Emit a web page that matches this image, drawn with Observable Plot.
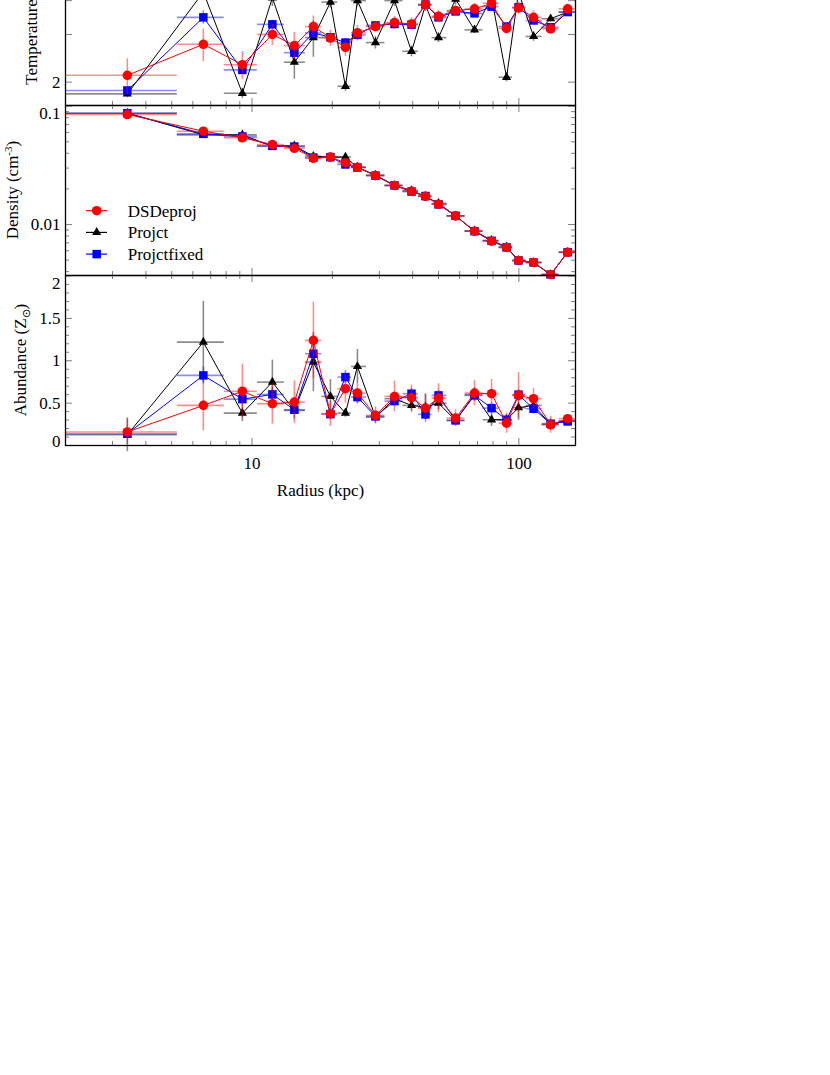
<!DOCTYPE html>
<html><head><meta charset="utf-8">
<script src="https://cdn.jsdelivr.net/npm/d3@7"></script>
<script src="https://cdn.jsdelivr.net/npm/@observablehq/plot@0.6"></script>
<style>
body{margin:0;background:#fff;}
#chart{width:830px;}
#chart svg{display:block;overflow:visible;}
</style></head><body><div id="chart"></div>
<script>
// ---- data ----
const radius   = [3.41, 6.57, 9.20, 11.92, 14.41, 16.98, 19.67, 22.39, 24.83, 29.01, 34.19, 39.6, 44.67, 49.98, 57.9, 68.2, 79.0, 89.9, 99.7, 113.5, 131.5, 152.3];
const binEdges = [2.0, 5.25, 7.87, 10.47, 13.22, 15.85, 18.27, 20.98, 23.58, 26.83, 31.48, 36.78, 42.05, 47.25, 53.8, 62.84, 73.4, 84.3, 94.7, 106.4, 122.2, 141.5, 163];

const tempDS    = [2.12, 2.76, 2.32, 3.00, 2.73, 3.21, 2.91, 2.69, 3.04, 3.21, 3.32, 3.28, 3.87, 3.50, 3.68, 3.73, 3.91, 3.16, 3.76, 3.47, 3.15, 3.73];
const tempDSErr = [0.32, 0.38, 0.27, 0.27, 0.32, 0.30, 0.20, 0.20, 0.20, 0.15, 0.18, 0.18, 0.20, 0.18, 0.15, 0.18, 0.18, 0.15, 0.20, 0.20, 0.15, 0.15];
const tempPJ    = [1.81, 4.30, 1.82, 4.10, 2.37, 2.92, 3.95, 1.93, 4.00, 2.80, 4.00, 2.60, 3.85, 2.92, 4.05, 3.12, 4.10, 2.085, 4.30, 2.95, 3.43, 3.63];
const tempPJErr = [0.06, 0.30, 0.08, 0.30, 0.32, 0.45, 0.20, 0.08, 0.20, 0.15, 0.20, 0.12, 0.20, 0.12, 0.20, 0.10, 0.20, 0.08, 0.20, 0.12, 0.10, 0.10];
const tempPF    = [1.864, 3.47, 2.22, 3.27, 2.57, 3.04, 2.93, 2.80, 2.99, 3.24, 3.28, 3.26, 3.87, 3.47, 3.65, 3.59, 3.80, 3.21, 3.78, 3.38, 3.19, 3.63];
const tempPFErr = [0.05, 0.20, 0.08, 0.12, 0.12, 0.12, 0.10, 0.10, 0.10, 0.10, 0.10, 0.10, 0.12, 0.10, 0.10, 0.10, 0.12, 0.10, 0.12, 0.10, 0.10, 0.10];

const densDS    = [0.0851, 0.0615, 0.0541, 0.0474, 0.0441, 0.0363, 0.0371, 0.0333, 0.0305, 0.0259, 0.0214, 0.0191, 0.0173, 0.01485, 0.01184, 0.00878, 0.00723, 0.0064, 0.00497, 0.00478, 0.00378, 0.00583];
const densDSErr = [0.0015, 0.0012, 0.0010, 0.0008, 0.0008, 0.0007, 0.0007, 0.0006, 0.0006, 0.0005, 0.0004, 0.0004, 0.0003, 0.0003, 0.0002, 0.00015, 0.00013, 0.00012, 0.0001, 0.0001, 0.00008, 0.0001];
const densPJ    = [0.0873, 0.0573, 0.0573, 0.0459, 0.0462, 0.0378, 0.0371, 0.0372, 0.0305, 0.0262, 0.0214, 0.0194, 0.0173, 0.0151, 0.01184, 0.00885, 0.00735, 0.00648, 0.00497, 0.00478, 0.00378, 0.00583];
const densPJErr = [0.0015, 0.0012, 0.0010, 0.0008, 0.0008, 0.0007, 0.0007, 0.0006, 0.0006, 0.0005, 0.0004, 0.0004, 0.0003, 0.0003, 0.0002, 0.00015, 0.00013, 0.00012, 0.0001, 0.0001, 0.00008, 0.0001];
const densPF    = [0.0873, 0.0584, 0.0555, 0.0462, 0.0456, 0.0368, 0.0371, 0.0322, 0.0303, 0.0259, 0.0214, 0.0190, 0.0174, 0.0148, 0.01184, 0.00878, 0.00728, 0.00641, 0.00497, 0.00478, 0.00378, 0.00583];
const densPFErr = [0.0015, 0.0012, 0.0010, 0.0008, 0.0008, 0.0007, 0.0007, 0.0006, 0.0006, 0.0005, 0.0004, 0.0004, 0.0003, 0.0003, 0.0002, 0.00015, 0.00013, 0.00012, 0.0001, 0.0001, 0.00008, 0.0001];

const abDS    = [0.16, 0.473, 0.64, 0.493, 0.512, 1.24, 0.375, 0.67, 0.618, 0.355, 0.579, 0.564, 0.441, 0.559, 0.323, 0.618, 0.611, 0.264, 0.591, 0.552, 0.245, 0.316];
const abDSErr = [0.15, 0.30, 0.32, 0.24, 0.25, 0.45, 0.15, 0.17, 0.12, 0.10, 0.18, 0.15, 0.17, 0.17, 0.10, 0.15, 0.17, 0.12, 0.27, 0.12, 0.10, 0.05];
const abPJ    = [0.127, 1.22, 0.382, 0.748, 0.414, 0.984, 0.579, 0.383, 0.933, 0.335, 0.552, 0.473, 0.453, 0.50, 0.296, 0.60, 0.304, 0.304, 0.446, 0.473, 0.25, 0.29];
const abPJErr = [0.20, 0.48, 0.10, 0.26, 0.10, 0.35, 0.20, 0.05, 0.20, 0.07, 0.08, 0.08, 0.15, 0.08, 0.06, 0.08, 0.08, 0.06, 0.15, 0.08, 0.06, 0.05];
const abPF    = [0.139, 0.827, 0.547, 0.603, 0.422, 1.083, 0.37, 0.807, 0.571, 0.343, 0.524, 0.611, 0.367, 0.591, 0.296, 0.591, 0.441, 0.304, 0.60, 0.434, 0.257, 0.284];
const abPFErr = [0.05, 0.10, 0.06, 0.08, 0.05, 0.10, 0.06, 0.08, 0.08, 0.05, 0.06, 0.06, 0.06, 0.06, 0.04, 0.06, 0.06, 0.05, 0.06, 0.06, 0.04, 0.04];

const seriesNames = ["DSDeproj", "Projct", "Projctfixed"];

const xMinor = [3, 4, 5, 6, 7, 8, 9, 20, 30, 40, 50, 60, 70, 80, 90];
const xMajor = [10, 100];
const xTickLabels = ["10", "100"];

const tempMajor = [2, 3, 4, 5, 6];
const tempTickLabels = [{v: 2, t: "2"}];
const densMajor = [0.01, 0.1];
const densMinor = [0.004, 0.005, 0.006, 0.007, 0.008, 0.009, 0.02, 0.03, 0.04, 0.05, 0.06, 0.07, 0.08, 0.09];
const densTickLabels = [{v: 0.01, t: "0.01"}, {v: 0.1, t: "0.1"}];
const abMajor = [0, 0.5, 1, 1.5, 2];
const abMinor = [0.1, 0.2, 0.3, 0.4, 0.6, 0.7, 0.8, 0.9, 1.1, 1.2, 1.3, 1.4, 1.6, 1.7, 1.8, 1.9];
const abTickLabels = [{v: 0, t: "0"}, {v: 0.5, t: "0.5"}, {v: 1, t: "1"}, {v: 1.5, t: "1.5"}, {v: 2, t: "2"}];

// ---- styling ----
const FONT = "'Liberation Serif', 'Times New Roman', serif";
const FS = 17;
const W = 600, ML = 65, MR = 25, FH = 170, FW = W - ML - MR;
const TICK = "#808080";
const styles = {
  Projct:      {color: "#000000", symbol: "triangle", r: 3.4},
  Projctfixed: {color: "#0000ff", symbol: "square",   r: 4.8},
  DSDeproj:    {color: "#ff0000", symbol: "circle",   r: 4.8}
};
const xScale = {type: "log", domain: [2, 163], axis: null};

function rows(vals, errs) {
  return radius.map((r, i) => ({r, lo: binEdges[i], hi: binEdges[i + 1], v: vals[i], e: errs[i]}));
}
function seriesMarks(name, vals, errs) {
  const s = styles[name];
  const data = rows(vals, errs);
  return [
    Plot.ruleY(data, {y: "v", x1: "lo", x2: "hi", stroke: s.color, strokeOpacity: 0.45, strokeWidth: 1.6}),
    Plot.ruleX(data, {x: "r", y1: d => d.v - d.e, y2: d => d.v + d.e, stroke: s.color, strokeOpacity: 0.45, strokeWidth: 1.6}),
    Plot.line(data, {x: "r", y: "v", stroke: s.color, strokeWidth: 1}),
    Plot.dot(data, {x: "r", y: "v", symbol: s.symbol, r: s.r, fill: s.color, stroke: "none"})
  ];
}
function xTicks() {
  return [
    Plot.tickX(xMinor, {x: d => d, stroke: TICK, insetTop: FH - 4}),
    Plot.tickX(xMinor, {x: d => d, stroke: TICK, insetBottom: FH - 4}),
    Plot.tickX(xMajor, {x: d => d, stroke: TICK, insetTop: FH - 7}),
    Plot.tickX(xMajor, {x: d => d, stroke: TICK, insetBottom: FH - 7})
  ];
}
function yTicks(minor, major) {
  return [
    Plot.tickY(minor, {y: d => d, stroke: TICK, insetRight: FW - 4}),
    Plot.tickY(minor, {y: d => d, stroke: TICK, insetLeft: FW - 4}),
    Plot.tickY(major, {y: d => d, stroke: TICK, insetRight: FW - 7}),
    Plot.tickY(major, {y: d => d, stroke: TICK, insetLeft: FW - 7})
  ];
}
function yTickText(labels, shift) {
  return Plot.text(labels, {y: "v", text: "t", frameAnchor: "left", dx: -5, dy: shift, textAnchor: "end", fontSize: FS, fontFamily: FONT, fill: "#000"});
}
function yLabel(parts, offset) {
  return (index, scales, values, dims) => {
    const g = d3.create("svg:g");
    const cy = dims.marginTop + (dims.height - dims.marginTop - dims.marginBottom) / 2;
    const t = g.append("text")
      .attr("transform", `translate(${dims.marginLeft - offset},${cy}) rotate(-90)`)
      .attr("text-anchor", "middle").attr("dy", "0.35em")
      .attr("font-family", FONT).attr("font-size", FS).attr("fill", "#000");
    let shift = 0;
    parts.forEach(p => {
      const ts = t.append("tspan").text(p.t);
      const target = p.sup ? -6 : p.sub ? 4 : 0;
      if (target !== shift) ts.attr("dy", target - shift);
      if (p.sup || p.sub) ts.attr("font-size", 11);
      shift = target;
    });
    return g.node();
  };
}
function legendMark(index, scales, values, dims) {
  const g = d3.create("svg:g").attr("font-family", FONT).attr("font-size", FS);
  const x0 = dims.marginLeft, y0 = dims.marginTop;
  const sym = {circle: d3.symbolCircle, triangle: d3.symbolTriangle, square: d3.symbolSquare};
  seriesNames.forEach((name, i) => {
    const s = styles[name];
    const y = y0 + 105.7 + i * 21.7;
    g.append("line").attr("x1", x0 + 21).attr("x2", x0 + 42).attr("y1", y).attr("y2", y)
      .attr("stroke", s.color).attr("stroke-width", 1.2);
    g.append("path").attr("d", d3.symbol(sym[s.symbol], Math.PI * s.r * s.r)())
      .attr("transform", `translate(${x0 + 31.7},${y})`).attr("fill", s.color);
    g.append("text").attr("x", x0 + 62.7).attr("y", y).attr("dy", "0.35em")
      .attr("text-anchor", "start").attr("fill", "#000").text(name);
  });
  return g.node();
}
function allSeries(ds, dsE, pj, pjE, pf, pfE) {
  return [
    ...seriesMarks("Projct", pj, pjE),
    ...seriesMarks("Projctfixed", pf, pfE),
    ...seriesMarks("DSDeproj", ds, dsE)
  ];
}
const baseStyle = {overflow: "visible", background: "transparent", fontFamily: FONT, fontSize: FS + "px"};

// ---- temperature ----
const tempPlot = Plot.plot({
  width: W, height: FH, marginLeft: ML, marginRight: MR, marginTop: 0, marginBottom: 0,
  style: baseStyle,
  x: xScale,
  y: {type: "log", domain: [1.64, 6.96], axis: null},
  marks: [
    ...xTicks(), ...yTicks([], tempMajor),
    ...allSeries(tempDS, tempDSErr, tempPJ, tempPJErr, tempPF, tempPFErr),
    yTickText(tempTickLabels, 0),
    yLabel([{t: "Temperature (keV)"}], 34),
    Plot.frame({stroke: "#000", strokeWidth: 1.3})
  ]
});
tempPlot.style.marginTop = "-65px";

// ---- density ----
const densPlot = Plot.plot({
  width: W, height: FH, marginLeft: ML, marginRight: MR, marginTop: 0, marginBottom: 0,
  style: baseStyle,
  x: xScale,
  y: {type: "log", domain: [0.00371, 0.1014], axis: null},
  marks: [
    ...xTicks(), ...yTicks(densMinor, densMajor),
    ...allSeries(densDS, densDSErr, densPJ, densPJErr, densPF, densPFErr),
    yTickText(densTickLabels.filter(d => d.v === 0.01), 0),
    yTickText(densTickLabels.filter(d => d.v === 0.1), 7),
    yLabel([{t: "Density (cm"}, {t: "-3", sup: true}, {t: ")"}], 53),
    legendMark,
    Plot.frame({stroke: "#000", strokeWidth: 1.3})
  ]
});

// ---- abundance ----
const abPlot = Plot.plot({
  width: W, height: FH + 70, marginLeft: ML, marginRight: MR, marginTop: 0, marginBottom: 70,
  style: baseStyle,
  x: xScale,
  y: {domain: [0, 2.006], axis: null},
  marks: [
    ...xTicks(), ...yTicks(abMinor, abMajor),
    ...allSeries(abDS, abDSErr, abPJ, abPJErr, abPF, abPFErr),
    yTickText(abTickLabels.filter(d => d.v > 0 && d.v < 2), 0),
    yTickText(abTickLabels.filter(d => d.v === 2), 8),
    yTickText(abTickLabels.filter(d => d.v === 0), -4),
    Plot.text(xMajor, {x: d => d, text: (d, i) => xTickLabels[i], frameAnchor: "bottom", dy: 23, fontSize: FS, fontFamily: FONT, fill: "#000"}),
    Plot.text(["Radius (kpc)"], {frameAnchor: "bottom", dy: 50, fontSize: FS, fontFamily: FONT, fill: "#000"}),
    yLabel([{t: "Abundance (Z"}, {t: "\u2299", sub: true}, {t: ")"}], 45),
    Plot.frame({stroke: "#000", strokeWidth: 1.3})
  ]
});

const chart = document.getElementById("chart");
chart.append(tempPlot, densPlot, abPlot);
</script>
</body></html>
